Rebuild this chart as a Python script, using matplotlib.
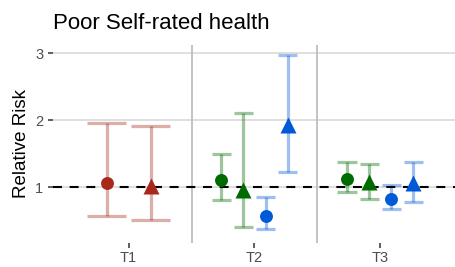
import matplotlib
matplotlib.use("Agg")
import matplotlib.pyplot as plt
import numpy as np

plt.rcParams['font.family'] = ['Liberation Sans', 'DejaVu Sans']

categories = ["T1", "T2", "T3"]
series_names = ["red_circle", "red_triangle", "green_circle", "green_triangle", "blue_circle", "blue_triangle"]
series_colors = ["#A8291C", "#A8291C", "#006B00", "#006B00", "#0059D6", "#0059D6"]
series_markers = ["o", "^", "o", "^", "o", "^"]

# point estimates per category (None = absent)
rr_red_circle = [1.06, None, None]
rr_red_triangle = [1.01, None, None]
rr_green_circle = [None, 1.11, 1.12]
rr_green_triangle = [None, 0.96, 1.07]
rr_blue_circle = [None, 0.57, 0.82]
rr_blue_triangle = [None, 1.93, 1.06]

lo_red_circle = [0.57, None, None]
lo_red_triangle = [0.51, None, None]
lo_green_circle = [None, 0.81, 0.92]
lo_green_triangle = [None, 0.40, 0.82]
lo_blue_circle = [None, 0.38, 0.67]
lo_blue_triangle = [None, 1.23, 0.78]

hi_red_circle = [1.95, None, None]
hi_red_triangle = [1.91, None, None]
hi_green_circle = [None, 1.50, 1.37]
hi_green_triangle = [None, 2.11, 1.34]
hi_blue_circle = [None, 0.85, 1.03]
hi_blue_triangle = [None, 2.97, 1.37]

rr = [rr_red_circle, rr_red_triangle, rr_green_circle, rr_green_triangle, rr_blue_circle, rr_blue_triangle]
lo = [lo_red_circle, lo_red_triangle, lo_green_circle, lo_green_triangle, lo_blue_circle, lo_blue_triangle]
hi = [hi_red_circle, hi_red_triangle, hi_green_circle, hi_green_triangle, hi_blue_circle, hi_blue_triangle]

W, H = 456, 267
fig = plt.figure(figsize=(W / 100, H / 100), dpi=100)
ax = fig.add_axes([53 / W, 1 - 243 / H, 1 - 53 / W, (243 - 45) / H])

dodge = 0.7
for ci, cat in enumerate(categories):
    present = [s for s in range(len(series_names)) if rr[s][ci] is not None]
    n = len(present)
    slot = dodge / n
    for k, s in enumerate(present):
        x = (ci + 1) + (k - (n - 1) / 2) * slot
        col = series_colors[s]
        cw = slot * 0.9 / 2
        ax.vlines(x, lo[s][ci], hi[s][ci], color=col, alpha=0.38, lw=2.3, zorder=3)
        ax.hlines([lo[s][ci], hi[s][ci]], x - cw, x + cw, color=col, alpha=0.38, lw=2.3, zorder=3)
        ms = 9.3 if series_markers[s] == "o" else 12
        ax.plot([x], [rr[s][ci]], marker=series_markers[s], color=col, ms=ms,
                mec='none', linestyle='none', zorder=5)

ax.axhline(1, color='black', lw=1.5, linestyle=(0, (4.3, 3.7)), zorder=4)

ax.set_xlim(0.4, 3.6)
ax.set_ylim(0.164, 3.12)
ax.set_xticks([1, 2, 3])
ax.set_xticklabels(categories)
ax.set_yticks([1, 2, 3])
ax.set_yticklabels(["1", "2", "3"])

ax.grid(axis='y', color='#DCDCDC', lw=1.3, zorder=0)
for xv in [1.5, 2.5]:
    ax.axvline(xv, color='#BEBEBE', lw=1.3, zorder=1)
ax.set_axisbelow(True)
for sp in ax.spines.values():
    sp.set_visible(False)

ax.tick_params(axis='both', colors='#333333', labelcolor='#4D4D4D', labelsize=10.5,
               length=3.5, width=1.1)
ax.tick_params(axis='y', pad=3.5)
ax.tick_params(axis='x', pad=2.5)

ax.set_ylabel("Relative Risk", fontsize=13.5, color='black', labelpad=4)
fig.text(53 / W, 1 - 29 / H, "Poor Self-rated health", fontsize=16, color='black',
         ha='left', va='baseline')

fig.savefig("out.png", dpi=100)
